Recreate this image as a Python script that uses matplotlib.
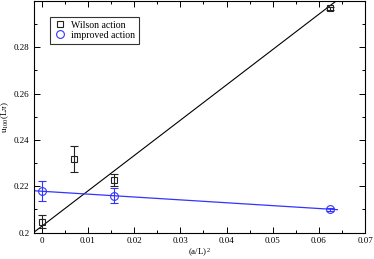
import matplotlib
matplotlib.use("Agg")
import matplotlib.pyplot as plt
from matplotlib.ticker import MultipleLocator, FixedLocator

plt.rcParams['font.family'] = ['Liberation Serif', 'DejaVu Serif']
plt.rcParams['mathtext.fontset'] = 'custom'
plt.rcParams['mathtext.rm'] = 'Liberation Serif'
plt.rcParams['mathtext.it'] = 'Liberation Serif:italic'

# Data
wilson_x = [0.0, 0.00694, 0.015625, 0.0625]
wilson_y = [0.2047, 0.2318, 0.2228, 0.2968]
wilson_err = [0.0027, 0.0056, 0.0025, 0.0005]

improved_x = [0.0, 0.015625, 0.0625]
improved_y = [0.2179, 0.2159, 0.2100]
improved_err = [0.0043, 0.0032, 0.0005]

fit_x = [-0.002, 0.064]
wilson_fit = [0.1997, 0.3004]
improved_fit = [0.2181, 0.2099]

xticks = [0, 0.01, 0.02, 0.03, 0.04, 0.05, 0.06, 0.07]
xticklabels = ["0", "0.01", "0.02", "0.03", "0.04", "0.05", "0.06", "0.07"]
yticks = [0.2, 0.22, 0.24, 0.26, 0.28]
yticklabels = ["0.2", "0.22", "0.24", "0.26", "0.28"]

fig = plt.figure(figsize=(3.74, 2.59), dpi=100)
ax = fig.add_axes([0.0896, 0.102, 0.976 - 0.0896, 0.996 - 0.102])

ax.plot(fit_x, wilson_fit, color='black', lw=0.8)
ax.plot(fit_x, improved_fit, color='#3333ff', lw=0.9)

ax.errorbar(wilson_x, wilson_y, yerr=wilson_err, fmt='s', ms=4.6, mfc='none',
            mec='#222222', mew=0.8, ecolor='#222222', elinewidth=0.8, capsize=2.8,
            capthick=0.8, label='Wilson action')
ax.errorbar(improved_x, improved_y, yerr=improved_err, fmt='o', ms=5.6, mfc='none',
            mec='#3333ff', mew=0.8, ecolor='#3333ff', elinewidth=0.8, capsize=2.8,
            capthick=0.8, label='improved action')

ax.set_xlim(-0.0018, 0.07)
ax.set_ylim(0.2, 0.3)
ax.xaxis.set_major_locator(FixedLocator(xticks))
ax.set_xticklabels(xticklabels)
ax.xaxis.set_minor_locator(MultipleLocator(0.005))
ax.yaxis.set_major_locator(FixedLocator(yticks))
ax.set_yticklabels(yticklabels)
ax.yaxis.set_minor_locator(MultipleLocator(0.01))
ax.tick_params(which='both', direction='in', top=True, right=True, labelsize=6.5,
               width=0.7, pad=3)
ax.tick_params(which='major', length=4.5)
ax.tick_params(which='minor', length=2.5)
for s in ax.spines.values():
    s.set_linewidth(0.8)

ax.set_xlabel(r'(a/L)$^2$', fontsize=6.5, labelpad=1)
ax.set_ylabel(r'u$_{100}$(L$\pi$)', fontsize=6.5, labelpad=2)

handles, labels = ax.get_legend_handles_labels()
handles = [h[0] for h in handles]
leg = ax.legend(handles, labels, loc='upper left', bbox_to_anchor=(0.05, 0.932),
                fontsize=7, frameon=True, fancybox=False, edgecolor='black',
                borderpad=0.4, handletextpad=0.6, handlelength=1.2,
                labelspacing=0.1, borderaxespad=0)
leg.get_frame().set_linewidth(0.8)

fig.savefig('out.png', dpi=100)
